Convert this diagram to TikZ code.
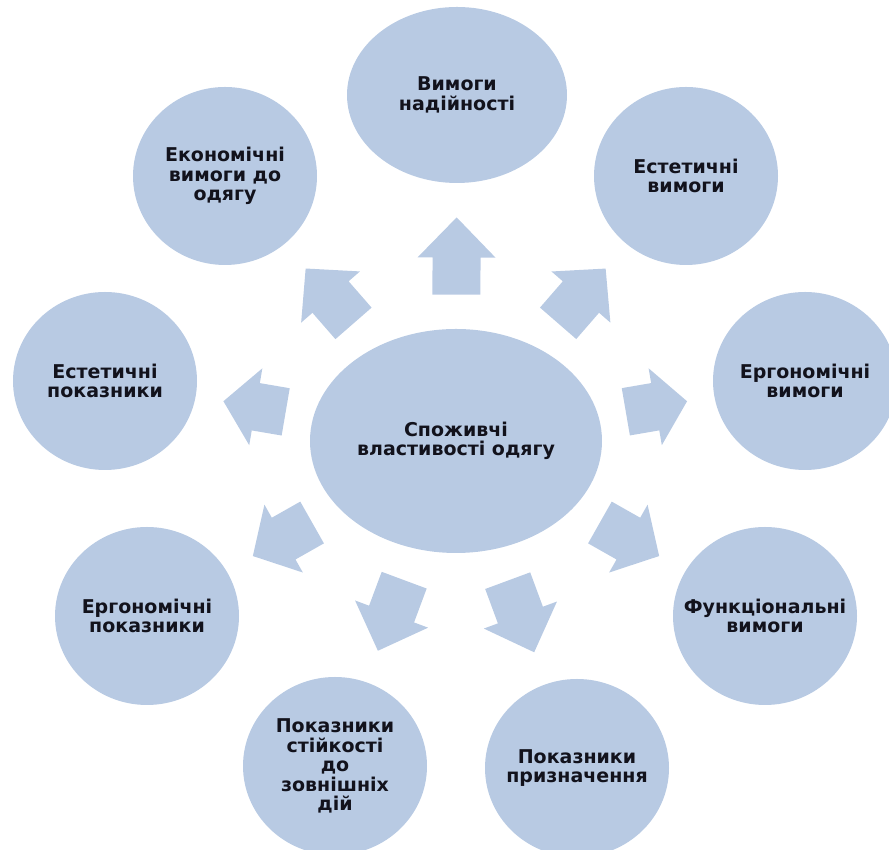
\documentclass[tikz,border=0pt]{standalone}
\usepackage{fontspec}
\setmainfont{DejaVu Sans}
\usetikzlibrary{shapes.geometric,calc}
\definecolor{bubblefill}{RGB}{184,202,227}
\definecolor{ink}{RGB}{18,18,28}
\tikzset{
  bubble/.style={ellipse, fill=bubblefill, inner sep=-20pt, minimum width=184pt,
    minimum height=178pt, align=center, text=ink,
    font=\bfseries\fontsize{19}{19.6}\selectfont},
  hub/.style={bubble, minimum width=292pt, minimum height=224pt},
  wide/.style={bubble, minimum width=220pt, minimum height=176pt},
  blockarrow/.style={fill=bubblefill}
}
\newcommand{\radarrow}[2]{%
  \path (#1) -- (#2) coordinate[pos=0] (s-#2) coordinate[pos=1] (e-#2)
    coordinate[midway] (m-#2);
  \pgfpointdiff{\pgfpointanchor{s-#2}{center}}{\pgfpointanchor{e-#2}{center}}%
  \pgfgetlastxy{\mydx}{\mydy}%
  \pgfmathsetmacro{\arrlen}{0.53*veclen(\mydx,\mydy)}%
  \pgfmathsetmacro{\myangle}{atan2(\mydy,\mydx)}%
  \pgfmathsetmacro{\hl}{\arrlen/2}%
  \pgfmathsetmacro{\hb}{\arrlen/2-0.52*\arrlen}%
  \fill[blockarrow, shift={(m-#2)}, rotate=\myangle]
    (\hl,0) -- (\hb,39) -- (\hb,24) -- (-\hl,24) -- (-\hl,-24)
    -- (\hb,-24) -- (\hb,-39) -- cycle;
}
\begin{document}
\begin{tikzpicture}[x=1pt,y=1pt]
\useasboundingbox (0,0) rectangle (889,850);
\clip (0,0) rectangle (889,850);
\node[hub]  (hub)  at (456,409) {Споживчі\\властивості одягу};
\node[wide] (nad)  at (457,755) {Вимоги\\надійності};
\node[bubble] (econ) at (225,674) {Економічні\\вимоги до\\одягу};
\node[bubble] (estv) at (686,674) {Естетичні\\вимоги};
\node[bubble] (estp) at (105,469) {Естетичні\\показники};
\node[bubble] (ergv) at (805,469) {Ергономічні\\вимоги};
\node[bubble] (ergp) at (147,234) {Ергономічні\\показники};
\node[bubble] (func) at (765,234) {Функціональні\\вимоги};
\node[bubble] (stiy) at (335,84) {Показники\\стійкості\\до\\зовнішніх\\дій};
\node[bubble] (pryz) at (577,82) {Показники\\призначення};
\foreach \t in {nad,econ,estv,estp,ergv,ergp,func,stiy,pryz}{\radarrow{hub}{\t}}
\end{tikzpicture}
\end{document}
